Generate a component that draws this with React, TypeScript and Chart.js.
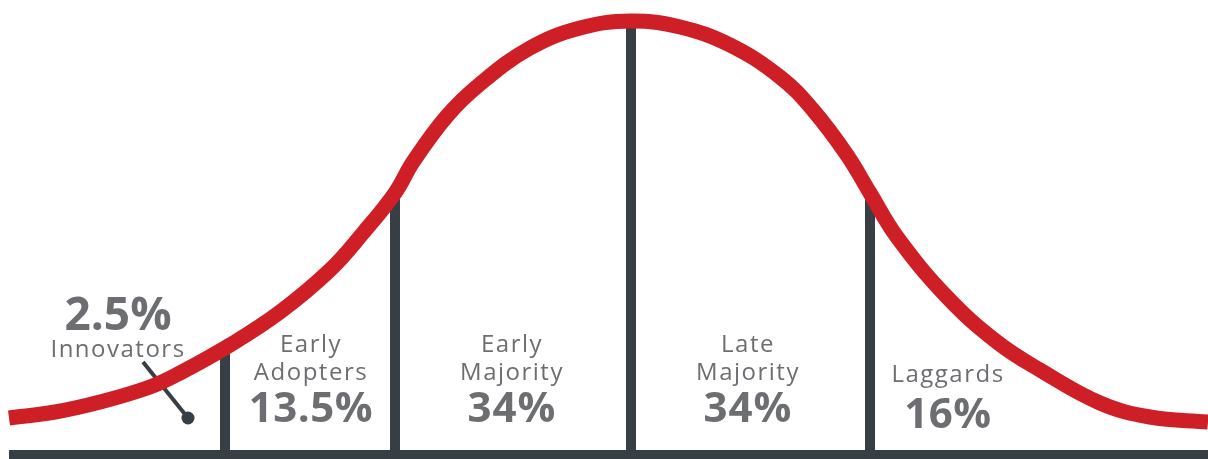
import React, { useEffect, useRef } from "react";
import { Chart, registerables } from "chart.js";

Chart.register(...registerables);

// Bell curve: x position and height above the floor
const curveX = [9, 55, 100, 150, 180, 230, 280, 330, 363, 395, 413, 447, 480, 530, 580, 631, 680, 730, 780, 813, 847, 870, 897, 947, 997, 1040, 1100, 1150, 1208];
const curveY = [41, 47, 57, 72, 86, 114, 147, 189, 226, 266, 297, 343, 375, 411, 431, 438, 432, 414, 382, 349, 304, 266, 222, 162, 117, 89, 56, 42, 37];

// Segment dividers
const dividerX = [225, 395, 631, 870];
const dividerTop = [110, 266, 438, 266];

// Segment labels
const segmentNames = [["Innovators"], ["Early", "Adopters"], ["Early", "Majority"], ["Late", "Majority"], ["Laggards"]];
const segmentShares = ["2.5%", "13.5%", "34%", "34%", "16%"];

// Innovators pointer (from label to dot)
const pointerX = [143, 188];
const pointerY = [97, 41];

const floorY = 4;
const floorX = [9, 1208];

const RED = "#CF1F26";
const DARK = "#373E44";
const GREY = "#6D6E71";
const FONT = "'Open Sans', 'Noto Sans', sans-serif";

// Text layout (positions in chart units)
const labelLayout = [
  { x: 118, share: { y: 129, size: 46, spacing: 0 }, names: [{ y: 102 }] },
  { x: 311, share: { y: 37, size: 42, spacing: 0.5 }, names: [{ y: 107 }, { y: 79 }] },
  { x: 512, share: { y: 37, size: 42, spacing: 1 }, names: [{ y: 107 }, { y: 79 }] },
  { x: 748, share: { y: 37, size: 42, spacing: 1 }, names: [{ y: 107 }, { y: 79 }] },
  { x: 948, share: { y: 31, size: 42, spacing: 0.5 }, names: [{ y: 77 }] },
];

const labelsPlugin = {
  id: "segmentLabels",
  afterDatasetsDraw(chart: any) {
    const { ctx, scales } = chart;
    const xs = scales.x;
    const ys = scales.y;
    ctx.save();
    ctx.fillStyle = GREY;
    ctx.textAlign = "center";
    ctx.textBaseline = "alphabetic";
    labelLayout.forEach((lay, i) => {
      const px = xs.getPixelForValue(lay.x);
      ctx.font = `700 ${lay.share.size}px ${FONT}`;
      (ctx as any).letterSpacing = `${lay.share.spacing}px`;
      ctx.fillText(segmentShares[i], px, ys.getPixelForValue(lay.share.y));
      ctx.font = `500 24px ${FONT}`;
      (ctx as any).letterSpacing = "1.5px";
      segmentNames[i].forEach((name, j) => {
        ctx.fillText(name, px, ys.getPixelForValue(lay.names[j].y));
      });
    });
    ctx.restore();
  },
};

export default function App() {
  const ref = useRef<HTMLCanvasElement>(null);
  useEffect(() => {
    if (!ref.current) return;
    const curve = curveX.map((x, i) => ({ x, y: curveY[i] }));
    const dividers = dividerX.map((x, i) => ({
      label: "divider" + i,
      data: [
        { x, y: 0 },
        { x, y: dividerTop[i] },
      ],
      borderColor: DARK,
      borderWidth: 10,
      pointRadius: 0,
      borderCapStyle: "butt" as const,
      order: 3,
    }));
    const chart = new Chart(ref.current, {
      type: "line",
      data: {
        datasets: [
          {
            label: "Adoption curve",
            data: curve,
            borderColor: RED,
            borderWidth: 15,
            pointRadius: 0,
            tension: 0.4,
            borderCapStyle: "butt",
            order: 0,
          },
          {
            label: "pointer",
            data: pointerX.map((x, i) => ({ x, y: pointerY[i] })),
            borderColor: DARK,
            backgroundColor: DARK,
            borderWidth: 4,
            pointRadius: [0, 6.5],
            pointBorderWidth: 0,
            order: 1,
          },
          {
            label: "floor",
            data: floorX.map((x) => ({ x, y: floorY })),
            borderColor: DARK,
            borderWidth: 10,
            pointRadius: 0,
            order: 2,
          },
          ...dividers,
        ] as any,
      },
      options: {
        animation: false,
        responsive: false,
        layout: { padding: 0, autoPadding: false },
        plugins: { legend: { display: false }, tooltip: { enabled: false } },
        scales: {
          x: { type: "linear", min: 0, max: 1208, display: false },
          y: { type: "linear", min: 0, max: 459, display: false },
        },
      },
      plugins: [labelsPlugin],
    });
    return () => chart.destroy();
  }, []);
  return (
    <div style={{ position: "fixed", left: 0, top: 0, width: 1208, height: 459, background: "#fff" }}>
      <canvas ref={ref} width={1208} height={459} style={{ display: "block" }} />
    </div>
  );
}
